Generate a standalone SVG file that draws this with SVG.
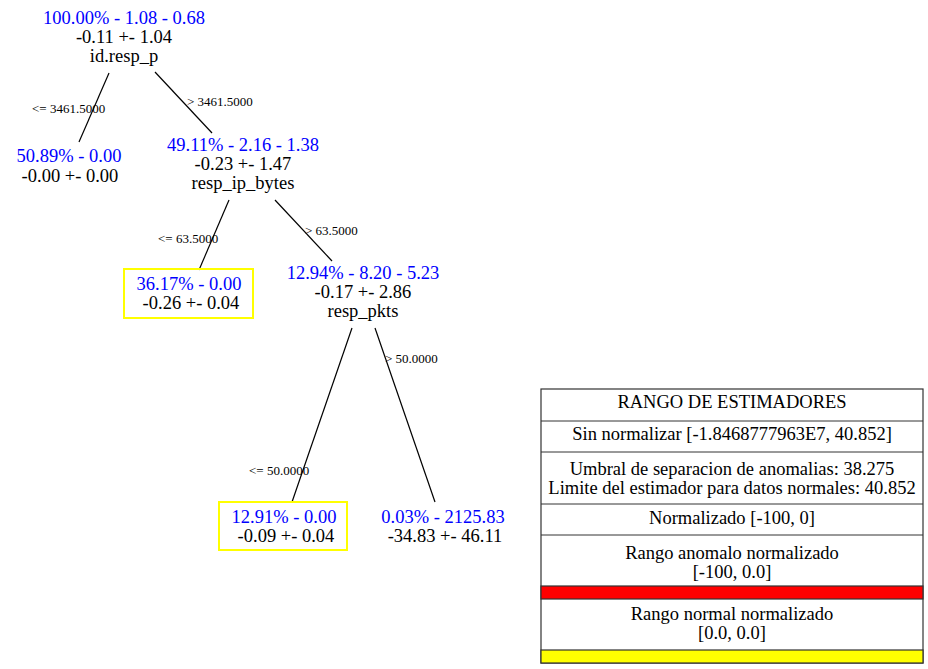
<svg xmlns="http://www.w3.org/2000/svg" width="928" height="669" viewBox="0 0 928 669">
<style>
text{font-family:"Liberation Serif","Times New Roman",serif;text-anchor:middle}
.t{font-size:18.5px}
.b{fill:#0000ff}
.k{fill:#000}
.e{font-size:13px;text-anchor:start}
.edge{stroke:#000;stroke-width:1.2;fill:none}
.leafbox{fill:none;stroke:#ffff00;stroke-width:2}
.cell{fill:#fff;stroke:#333;stroke-width:1}
</style>
<rect width="928" height="669" fill="#fff"/>
<g id="connectors">
<line class="edge" x1="109" y1="73" x2="79" y2="142"/>
<text class="e" x="32" y="113">&lt;= 3461.5000</text>
<line class="edge" x1="155" y1="72" x2="212" y2="133"/>
<text class="e" x="187" y="106">&gt; 3461.5000</text>
<line class="edge" x1="229" y1="200" x2="199" y2="270"/>
<text class="e" x="158" y="243">&lt;= 63.5000</text>
<line class="edge" x1="275" y1="200" x2="332" y2="261"/>
<text class="e" x="305" y="235">&gt; 63.5000</text>
<line class="edge" x1="352" y1="328" x2="292" y2="502"/>
<text class="e" x="249" y="475">&lt;= 50.0000</text>
<line class="edge" x1="375" y1="328" x2="435" y2="502"/>
<text class="e" x="385" y="363">&gt; 50.0000</text>
</g>
<g id="root">
<text class="t b" x="124" y="24">100.00% - 1.08 - 0.68</text>
<text class="t k" x="124" y="43">-0.11 +- 1.04</text>
<text class="t k" x="124" y="62">id.resp_p</text>
</g>
<g id="leaf1">
<text class="t b" x="69" y="162">50.89% - 0.00</text>
<text class="t k" x="70" y="182">-0.00 +- 0.00</text>
</g>
<g id="node2">
<text class="t b" x="243" y="151">49.11% - 2.16 - 1.38</text>
<text class="t k" x="243" y="170">-0.23 +- 1.47</text>
<text class="t k" x="243" y="189">resp_ip_bytes</text>
</g>
<g id="leaf2">
<rect class="leafbox" x="124" y="269" width="129" height="49"/>
<text class="t b" x="189" y="290">36.17% - 0.00</text>
<text class="t k" x="191" y="309">-0.26 +- 0.04</text>
</g>
<g id="node3">
<text class="t b" x="363" y="279">12.94% - 8.20 - 5.23</text>
<text class="t k" x="363" y="298">-0.17 +- 2.86</text>
<text class="t k" x="363" y="317">resp_pkts</text>
</g>
<g id="leaf3">
<rect class="leafbox" x="219" y="502" width="128" height="48"/>
<text class="t b" x="284" y="523">12.91% - 0.00</text>
<text class="t k" x="286" y="542">-0.09 +- 0.04</text>
</g>
<g id="leaf4">
<text class="t b" x="443" y="523">0.03% - 2125.83</text>
<text class="t k" x="445" y="542">-34.83 +- 46.11</text>
</g>
<g id="legend">
<rect x="541" y="389" width="382" height="274" fill="#fff" stroke="#333" stroke-width="1.2"/>
<line class="cell" x1="541" y1="421" x2="923" y2="421"/>
<line class="cell" x1="541" y1="452" x2="923" y2="452"/>
<line class="cell" x1="541" y1="504" x2="923" y2="504"/>
<line class="cell" x1="541" y1="535" x2="923" y2="535"/>
<rect x="541" y="586" width="382" height="13" fill="#ff0000" stroke="#333" stroke-width="1.2"/>
<rect x="541" y="650" width="382" height="13" fill="#ffff00" stroke="#333" stroke-width="1.2"/>
<text class="t k" x="732" y="408">RANGO DE ESTIMADORES</text>
<text class="t k" x="732" y="440">Sin normalizar [-1.8468777963E7, 40.852]</text>
<text class="t k" x="732" y="474.5">Umbral de separacion de anomalias: 38.275</text>
<text class="t k" x="732" y="493.5">Limite del estimador para datos normales: 40.852</text>
<text class="t k" x="732" y="524">Normalizado [-100, 0]</text>
<text class="t k" x="732" y="558.5">Rango anomalo normalizado</text>
<text class="t k" x="732" y="577.5">[-100, 0.0]</text>
<text class="t k" x="732" y="619.5">Rango normal normalizado</text>
<text class="t k" x="732" y="638.5">[0.0, 0.0]</text>
</g>
</svg>
